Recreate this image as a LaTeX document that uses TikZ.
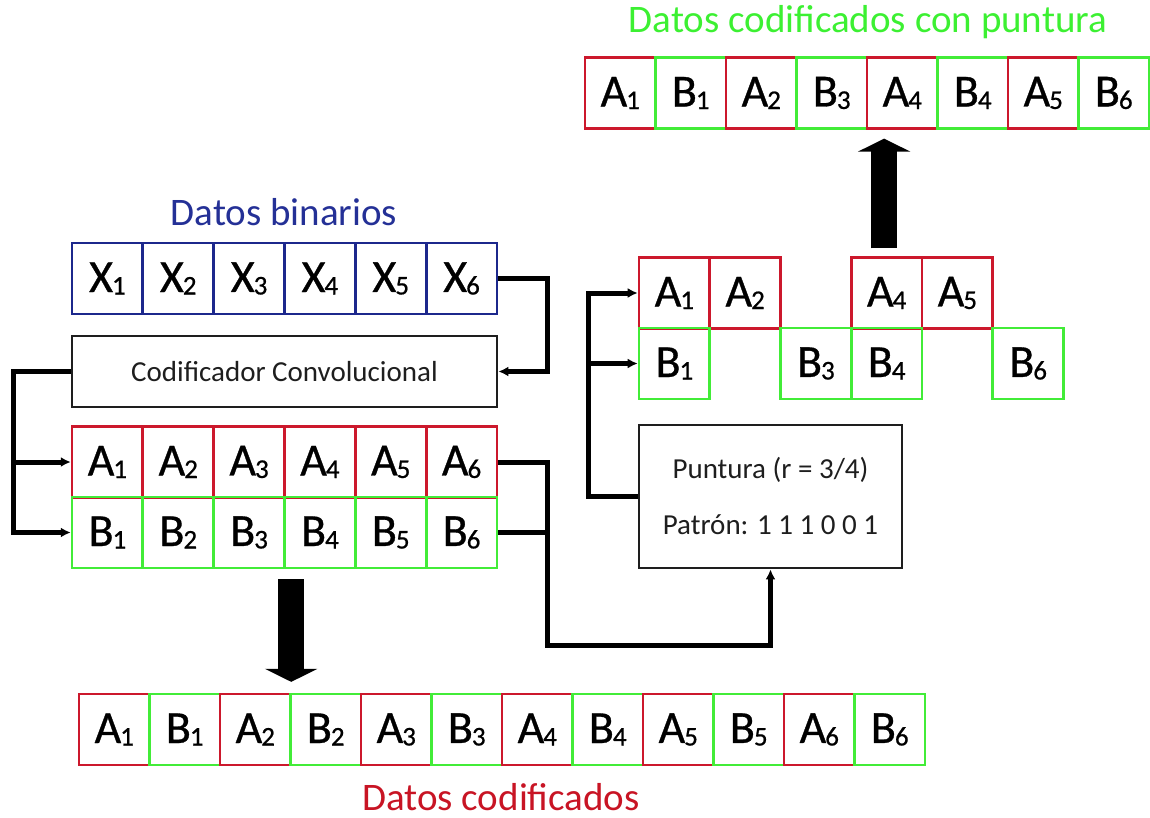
\documentclass[tikz,border=0pt]{standalone}
\usepackage{fontspec}
\setmainfont{Carlito}
\newfontfamily\cellfont[FakeBold=0.7]{Carlito}
\usetikzlibrary{arrows.meta}
\definecolor{cred}{RGB}{204,24,44}
\definecolor{cgreen}{RGB}{66,236,56}
\definecolor{cblue}{RGB}{28,40,140}
\definecolor{tgreen}{RGB}{60,240,50}
\definecolor{tred}{RGB}{200,20,36}
\definecolor{tblue}{RGB}{36,48,150}
\definecolor{ink}{RGB}{30,30,30}
% letter with a small lowered index
\newcommand{\bitsym}[2]{#1\kern-1pt\raisebox{-2.5pt}{\fontsize{27}{27}\selectfont #2}}
\begin{document}
\begin{tikzpicture}[x=1pt,y=-1pt,
  cell/.style={draw, line width=2.6pt, minimum width=70.7pt, minimum height=70.7pt,
    inner sep=0pt, text=black, font=\cellfont\fontsize{46}{46}\selectfont},
  xcell/.style={cell, draw=cblue},
  acell/.style={cell, draw=cred},
  bcell/.style={cell, draw=cgreen},
  blockbox/.style={draw=ink, line width=2.8pt, inner sep=0pt, text=ink,
    font=\fontsize{29}{56}\selectfont, align=center},
  title/.style={inner sep=0pt, font=\fontsize{39}{39}\selectfont},
  conn/.style={line width=5pt, -{Latex[length=10pt,width=10pt]}},
  wire/.style={line width=5pt},
  bigarrow/.style={line width=26pt, -{Triangle[length=13pt,width=52pt]}}
]
\useasboundingbox (0,0) rectangle (1150,818);

% binary input
\node[title, text=tblue] (tin) at (284,212) {Datos binarios};
\foreach \i in {1,...,6}
  \node[xcell] (x\i) at ({72+70.83*(\i-0.5)},278.5) {\bitsym{X}{\i}};

% convolutional encoder
\node[blockbox, minimum width=425pt, minimum height=71pt] (enc) at (284.5,371.5)
  {Codificador Convolucional};

% encoder outputs A and B
\foreach \i in {1,...,6}
  \node[acell] (a\i) at ({72+70.83*(\i-0.5)},462) {\bitsym{A}{\i}};
\foreach \i in {1,...,6}
  \node[bcell] (b\i) at ({72+70.83*(\i-0.5)},532.5) {\bitsym{B}{\i}};

% serialised coded data
\foreach \i/\l/\s in {1/A/cred,2/B/cgreen,3/A/cred,4/B/cgreen,5/A/cred,6/B/cgreen,
                      7/A/cred,8/B/cgreen,9/A/cred,10/B/cgreen,11/A/cred,12/B/cgreen}{
  \pgfmathtruncatemacro{\k}{(\i+1)/2}
  \node[cell, draw=\s] (d\i) at ({79+70.5*(\i-0.5)},729.5) {\bitsym{\l}{\k}};
}
\node[title, text=tred] (tcod) at (501,797) {Datos codificados};

% puncturing block
\node[blockbox, minimum width=263pt, minimum height=143pt] (punc) at (770.5,496.5)
  {Puntura (r = 3/4)\\Patrón: 1 1 1 0 0 1};

% bits kept after puncturing
\foreach \c/\k in {0/1,1/2,3/4,4/5}
  \node[acell] (pa\k) at ({639+70.75*(\c+0.5)},293) {\bitsym{A}{\k}};
\foreach \c/\k in {0/1,2/3,3/4,5/6}
  \node[bcell] (pb\k) at ({639+70.75*(\c+0.5)},363.5) {\bitsym{B}{\k}};

% punctured output
\node[title, text=tgreen] (tpun) at (868,22) {Datos codificados con puntura};
\foreach \i/\l/\k/\s in {1/A/1/cred,2/B/1/cgreen,3/A/2/cred,4/B/3/cgreen,
                         5/A/4/cred,6/B/4/cgreen,7/A/5/cred,8/B/6/cgreen}
  \node[cell, draw=\s] (p\i) at ({585+70.5*(\i-0.5)},93) {\bitsym{\l}{\k}};

% connectors
\draw[conn] (x6.east) -- ++(49,0) |- (enc.east);
\draw[conn] (enc.west) -- ++(-57,0) |- (a1.west);
\draw[conn] (enc.west) -- ++(-57,0) |- (b1.west);
\draw[wire] (b6.east) -- ++(49,0);
\draw[conn] (a6.east) -- ++(49,0) -- ++(0,183) -| (punc.south);
\draw[conn] (punc.west) -- ++(-49,0) |- (pa1.west);
\draw[conn] (punc.west) -- ++(-49,0) |- (pb1.west);

% block arrows
\coordinate (dnfrom) at ([xshift=5.5pt,yshift=-10pt]b3.south east);
\draw[bigarrow] (dnfrom) -- ([yshift=11pt]dnfrom |- d3.north);
\coordinate (upfrom) at ([xshift=-2.5pt,yshift=8pt]pa4.north);
\draw[bigarrow] (upfrom) -- ([yshift=-9pt]upfrom |- p5.south);
\end{tikzpicture}
\end{document}
